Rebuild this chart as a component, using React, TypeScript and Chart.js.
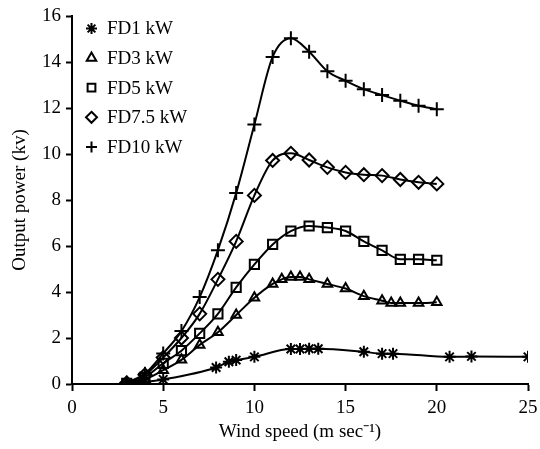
import React, { useEffect, useRef } from 'react';
import { Chart, registerables } from 'chart.js';

Chart.register(...registerables);

const FONT = "'Liberation Serif', 'Times New Roman', serif";

// Data (wind speed in m/s, output power in kW)
const fd1X = [3, 5, 7.9, 8.6, 9, 10, 12, 12.5, 13, 13.5, 16, 17, 17.6, 20.7, 21.9, 25];
const fd1Y = [0, 0.2, 0.72, 0.97, 1.04, 1.18, 1.52, 1.52, 1.53, 1.53, 1.4, 1.32, 1.32, 1.18, 1.2, 1.18];

const fd3X = [3, 4, 5, 6, 7, 8, 9, 10, 11, 11.5, 12, 12.5, 13, 14, 15, 16, 17, 17.5, 18, 19, 20];
const fd3Y = [0.02, 0.2, 0.6, 1.05, 1.7, 2.25, 3.0, 3.75, 4.35, 4.55, 4.65, 4.65, 4.55, 4.35, 4.15, 3.82, 3.62, 3.52, 3.52, 3.52, 3.55];

const windX = [3, 4, 5, 6, 7, 8, 9, 10, 11, 12, 13, 14, 15, 16, 17, 18, 19, 20];
const fd5Y = [0.03, 0.3, 0.9, 1.45, 2.2, 3.05, 4.2, 5.2, 6.07, 6.65, 6.87, 6.8, 6.65, 6.2, 5.81, 5.42, 5.42, 5.38];
const fd75Y = [0.05, 0.4, 1.15, 2.0, 3.05, 4.55, 6.2, 8.2, 9.72, 10.03, 9.74, 9.42, 9.2, 9.1, 9.06, 8.89, 8.77, 8.7];
const fd10Y = [0.05, 0.45, 1.33, 2.3, 3.78, 5.82, 8.3, 11.28, 14.22, 15.03, 14.45, 13.6, 13.18, 12.82, 12.56, 12.32, 12.1, 11.95];

const seriesLabels = ['FD1 kW', 'FD3 kW', 'FD5 kW', 'FD7.5 kW', 'FD10 kW'];
const seriesStyles = ['star', 'triangle', 'rect', 'rectRot', 'cross'];
const seriesRadius = [6, 5.5, 6.5, 6.5, 7];

const xTicks = [0, 5, 10, 15, 20, 25];
const yTicks = [0, 2, 4, 6, 8, 10, 12, 14, 16];

const toPoints = (xs: number[], ys: number[]) => xs.map((x, i) => ({ x, y: ys[i] }));

function drawSymbol(ctx: CanvasRenderingContext2D, style: string, x: number, y: number, r: number) {
  ctx.beginPath();
  if (style === 'star') {
    for (let k = 0; k < 4; k++) {
      const a = (k * Math.PI) / 4;
      ctx.moveTo(x - Math.cos(a) * r, y - Math.sin(a) * r);
      ctx.lineTo(x + Math.cos(a) * r, y + Math.sin(a) * r);
    }
    ctx.stroke();
  } else if (style === 'triangle') {
    let rad = 0;
    ctx.moveTo(x + Math.sin(rad) * r, y - Math.cos(rad) * r);
    rad += (2 * Math.PI) / 3;
    ctx.lineTo(x + Math.sin(rad) * r, y - Math.cos(rad) * r);
    rad += (2 * Math.PI) / 3;
    ctx.lineTo(x + Math.sin(rad) * r, y - Math.cos(rad) * r);
    ctx.closePath();
    ctx.stroke();
  } else if (style === 'rect') {
    const s = Math.SQRT1_2 * r;
    ctx.rect(x - s, y - s, 2 * s, 2 * s);
    ctx.stroke();
  } else if (style === 'rectRot') {
    ctx.moveTo(x, y - r);
    ctx.lineTo(x + r, y);
    ctx.lineTo(x, y + r);
    ctx.lineTo(x - r, y);
    ctx.closePath();
    ctx.stroke();
  } else {
    ctx.moveTo(x - r, y);
    ctx.lineTo(x + r, y);
    ctx.moveTo(x, y - r);
    ctx.lineTo(x, y + r);
    ctx.stroke();
  }
}

const insideLegend = {
  id: 'insideLegend',
  afterDraw(chart: any) {
    const ctx = chart.ctx as CanvasRenderingContext2D;
    const area = chart.chartArea;
    ctx.save();
    ctx.strokeStyle = '#000';
    ctx.fillStyle = '#000';
    ctx.lineWidth = 2;
    ctx.font = `19px ${FONT}`;
    ctx.textBaseline = 'middle';
    ctx.textAlign = 'left';
    seriesLabels.forEach((label, i) => {
      const cy = area.top + 12.5 + i * 29.6;
      const sx = area.left + 19.5;
      drawSymbol(ctx, seriesStyles[i], sx, cy, 5.5);
      ctx.fillText(label, area.left + 35, cy + 1);
    });
    ctx.restore();
  },
};

export default function App() {
  const canvasRef = useRef<HTMLCanvasElement | null>(null);

  useEffect(() => {
    if (!canvasRef.current) return;
    const ys = [fd1Y, fd3Y, fd5Y, fd75Y, fd10Y];
    const xs = [fd1X, fd3X, windX, windX, windX];
    const datasets = seriesLabels.map((label, i) => ({
      label,
      data: toPoints(xs[i], ys[i]),
      borderColor: '#000',
      backgroundColor: 'rgba(0,0,0,0)',
      borderWidth: 2,
      pointStyle: seriesStyles[i],
      pointRadius: seriesRadius[i],
      pointBorderWidth: 2,
      pointBorderColor: '#000',
      pointBackgroundColor: 'rgba(0,0,0,0)',
      cubicInterpolationMode: 'monotone' as const,
      fill: false,
    }));

    const tickFont = { family: FONT, size: 19 };
    const chart = new Chart(canvasRef.current, {
      type: 'line',
      data: { datasets },
      options: {
        animation: false,
        responsive: false,
        maintainAspectRatio: false,
        layout: { padding: { top: 16, right: 12, left: 0, bottom: 6 } },
        plugins: {
          legend: { display: false },
          tooltip: { enabled: false },
        },
        scales: {
          x: {
            type: 'linear',
            min: 0,
            max: 25,
            afterBuildTicks: (scale: any) => {
              scale.ticks = xTicks.map((v) => ({ value: v }));
            },
            afterFit: (scale: any) => {
              scale.height = 59;
              scale.paddingRight = 0;
              scale.paddingLeft = 0;
            },
            ticks: { color: '#000', font: tickFont, padding: 6, maxRotation: 0 },
            grid: {
              display: true,
              drawOnChartArea: false,
              drawTicks: true,
              tickLength: 7,
              tickWidth: 2,
              tickColor: '#000',
            },
            border: { display: true, color: '#000', width: 2 },
            title: {
              display: true,
              text: 'Wind speed (m sec\u207B\u00B9)',
              color: '#000',
              font: { family: FONT, size: 19 },
              padding: { top: 2, bottom: 0 },
            },
          },
          y: {
            type: 'linear',
            min: 0,
            max: 16,
            afterBuildTicks: (scale: any) => {
              scale.ticks = yTicks.map((v) => ({ value: v }));
            },
            afterFit: (scale: any) => {
              scale.width = 72;
              scale.paddingTop = 0;
            },
            ticks: { color: '#000', font: tickFont, padding: 5 },
            grid: {
              display: true,
              drawOnChartArea: false,
              drawTicks: true,
              tickLength: 6,
              tickWidth: 2,
              tickColor: '#000',
            },
            border: { display: true, color: '#000', width: 2 },
            title: {
              display: true,
              text: 'Output power (kv)',
              color: '#000',
              font: { family: FONT, size: 19 },
              padding: { top: 9, bottom: 0 },
            },
          },
        },
      },
      plugins: [insideLegend],
    });
    return () => chart.destroy();
  }, []);

  return (
    <div style={{ position: 'fixed', left: 0, top: 0, width: 540, height: 449, background: '#fff' }}>
      <canvas ref={canvasRef} width={540} height={449} style={{ display: 'block', width: 540, height: 449 }} />
    </div>
  );
}
